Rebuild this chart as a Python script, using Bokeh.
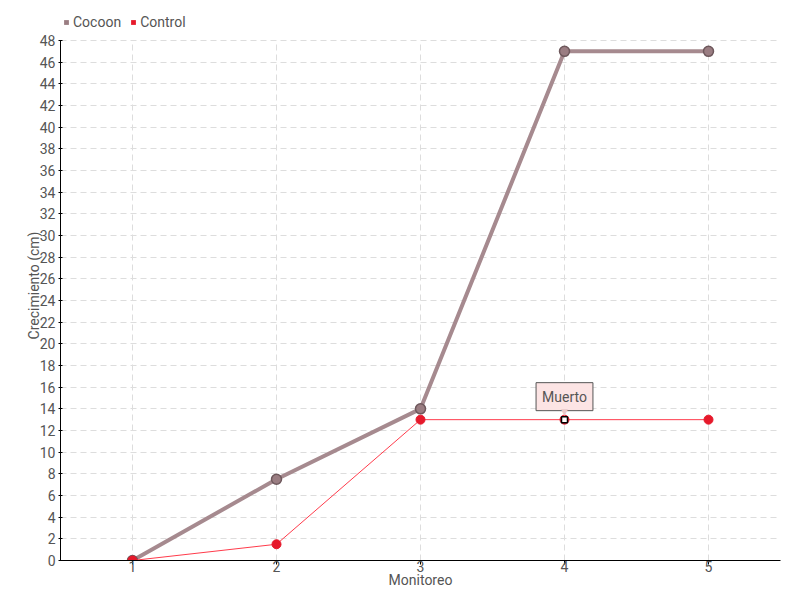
from bokeh.plotting import figure
from bokeh.models import ColumnDataSource, Legend, LegendItem, Label, FixedTicker, Range1d
from bokeh.embed import file_html
from bokeh.resources import INLINE

monitoreo = [1, 2, 3, 4, 5]
cocoon = [0, 7.5, 14, 47, 47]
control = [0, 1.5, 13, 13, 13]
muerto_idx = 3
y_ticks = list(range(0, 50, 2))

FONT = "Roboto"
TXT = "#555555"
COC_LINE = "#a68a8f"
COC_FILL = "#9a7d82"
COC_EDGE = "#6e585c"
CTL_LINE = "#ff3b4b"
CTL_FILL = "#e6192b"
GRID = "#dddddd"

# layout: frame spans 550px, ticks region 0..48 occupies the lower 520px
y_top = y_ticks[-1] * 550 / 520

p = figure(width=800, height=600, output_backend="svg", toolbar_location=None,
           x_range=Range1d(0.5, 5.5), y_range=Range1d(0, y_top),
           min_border_left=60, min_border_right=20, min_border_top=10, min_border_bottom=40)
p.outline_line_color = None
p.background_fill_color = "white"

src = ColumnDataSource(dict(x=monitoreo, coc=cocoon, ctl=control))

# vertical grid lines only up to the top tick
p.xgrid.visible = False
p.segment(x0=monitoreo, y0=[y_ticks[0]] * len(monitoreo), x1=monitoreo, y1=[y_ticks[-1]] * len(monitoreo),
          line_color=GRID, line_dash="6 4", line_width=1)

p.line("x", "coc", source=src, line_color=COC_LINE, line_width=4)
sq1 = p.scatter("x", "coc", source=src, marker="square", size=6, fill_color=COC_FILL, line_color=None)
p.scatter("x", "coc", source=src, size=10, fill_color=COC_FILL, line_color=COC_EDGE, line_width=1.5)
p.line("x", "ctl", source=src, line_color=CTL_LINE, line_width=1)
sq2 = p.scatter("x", "ctl", source=src, marker="square", size=5, fill_color=CTL_FILL, line_color=None)
p.scatter("x", "ctl", source=src, size=9, fill_color=CTL_FILL, line_color=CTL_FILL, line_width=1)
p.scatter([monitoreo[muerto_idx]], [control[muerto_idx]], marker="square", size=6,
          fill_color="white", line_color="black", line_width=1.5)

lab = Label(x=monitoreo[muerto_idx], y=control[muerto_idx], text="Muerto",
            text_align="center", text_baseline="bottom", y_offset=9,
            text_font=FONT, text_font_size="14px", text_color=TXT,
            background_fill_color="#fce4e4", border_line_color="#555555", border_line_width=1,
            padding=6)
p.add_layout(lab)
ptr = Label(x=monitoreo[muerto_idx], y=control[muerto_idx], text="▼", text_align="center",
            text_baseline="bottom", y_offset=3, text_font="DejaVu Sans", text_font_size="9px",
            text_color="#e9c9c9")
p.add_layout(ptr)

legend = Legend(items=[LegendItem(label="Cocoon", renderers=[sq1]), LegendItem(label="Control", renderers=[sq2])],
                orientation="horizontal", location=(0, 530), label_text_font=FONT,
                label_text_font_size="14px", label_text_color=TXT, glyph_width=12, glyph_height=14,
                label_standoff=1, spacing=6, padding=0, margin=0, border_line_color=None,
                background_fill_alpha=0, label_height=14)
p.add_layout(legend, "center")

for ax in (p.xaxis[0], p.yaxis[0]):
    ax.axis_line_color = "black"
    ax.major_tick_line_color = "black"
    ax.minor_tick_line_color = None
    ax.major_label_text_font = FONT
    ax.major_label_text_font_size = "14px"
    ax.major_label_text_color = TXT
    ax.axis_label_text_font = FONT
    ax.axis_label_text_font_size = "14px"
    ax.axis_label_text_color = TXT
    ax.axis_label_text_font_style = "normal"

p.xaxis.ticker = FixedTicker(ticks=monitoreo)
p.yaxis.ticker = FixedTicker(ticks=y_ticks)
p.yaxis.bounds = (y_ticks[0], y_ticks[-1])
p.xaxis.axis_label = "Monitoreo"
p.yaxis.axis_label = "Crecimiento (cm)"
p.xaxis.major_tick_in = 0
p.xaxis.major_tick_out = 4
p.yaxis.major_tick_in = 2
p.yaxis.major_tick_out = 2
p.xaxis.major_label_standoff = -4
p.xaxis.axis_label_standoff = -3
p.yaxis.major_label_standoff = 3
p.yaxis.axis_label_standoff = -5

p.ygrid.grid_line_color = GRID
p.ygrid.grid_line_dash = "6 4"

open("out.html", "w").write(file_html(p, INLINE))
